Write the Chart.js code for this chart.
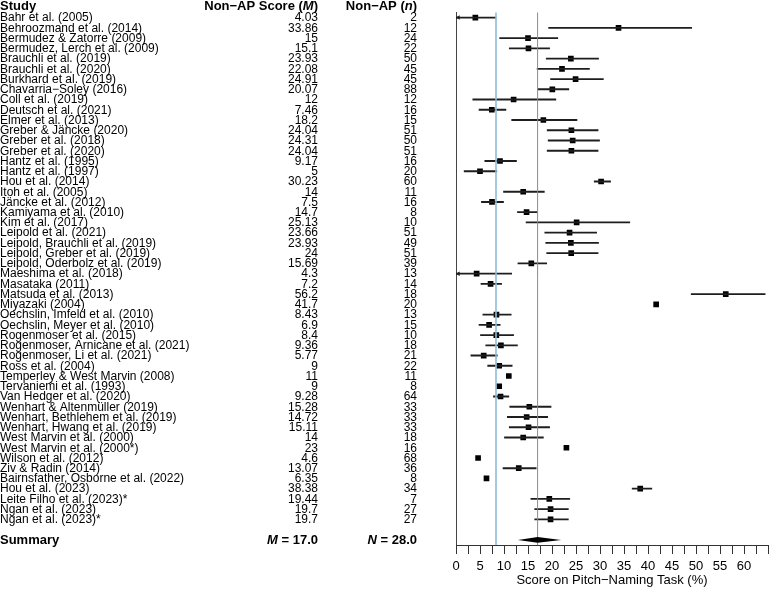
<!DOCTYPE html>
<html>
<head>
<meta charset="utf-8">
<script src="https://cdn.jsdelivr.net/npm/chart.js@4/dist/chart.umd.min.js"></script>
<style>
  html, body { margin: 0; padding: 0; background: #fff; }
</style>
</head>
<body>
<canvas id="forest" width="773" height="589"></canvas>
<script>
const studies = [
  'Bahr et al. (2005)', 'Behroozmand et al. (2014)', 'Bermudez & Zatorre (2009)',
  'Bermudez, Lerch et al. (2009)', 'Brauchli et al. (2019)', 'Brauchli et al. (2020)',
  'Burkhard et al. (2019)', 'Chavarria\u2212Soley (2016)', 'Coll et al. (2019)',
  'Deutsch et al. (2021)', 'Elmer et al. (2013)', 'Greber & Jäncke (2020)',
  'Greber et al. (2018)', 'Greber et al. (2020)', 'Hantz et al. (1995)',
  'Hantz et al. (1997)', 'Hou et al. (2014)', 'Itoh et al. (2005)',
  'Jäncke et al. (2012)', 'Kamiyama et al. (2010)', 'Kim et al. (2017)',
  'Leipold et al. (2021)', 'Leipold, Brauchli et al. (2019)', 'Leipold, Greber et al. (2019)',
  'Leipold, Oderbolz et al. (2019)', 'Maeshima et al. (2018)', 'Masataka (2011)',
  'Matsuda et al. (2013)', 'Miyazaki (2004)', 'Oechslin, Imfeld et al. (2010)',
  'Oechslin, Meyer et al. (2010)', 'Rogenmoser et al. (2015)', 'Rogenmoser, Arnicane et al. (2021)',
  'Rogenmoser, Li et al. (2021)', 'Ross et al. (2004)', 'Temperley & West Marvin (2008)',
  'Tervaniemi et al. (1993)', 'Van Hedger et al. (2020)', 'Wenhart & Altenmüller (2019)',
  'Wenhart, Bethlehem et al. (2019)', 'Wenhart, Hwang et al. (2019)', 'West Marvin et al. (2000)',
  'West Marvin et al. (2000*)', 'Wilson et al. (2012)', 'Ziv & Radin (2014)',
  'Bairnsfather, Osborne et al. (2022)', 'Hou et al. (2023)', 'Leite Filho et al. (2023)*',
  'Ngan et al. (2023)', 'Ngan et al. (2023)*'
];

const scores = [
  4.03, 33.86, 15, 15.1, 23.93, 22.08, 24.91, 20.07, 12, 7.46,
  18.2, 24.04, 24.31, 24.04, 9.17, 5, 30.23, 14, 7.5, 14.7,
  25.13, 23.66, 23.93, 24, 15.69, 4.3, 7.2, 56.2, 41.7, 8.43,
  6.9, 8.4, 9.36, 5.77, 9, 11, 9, 9.28, 15.28, 14.72,
  15.11, 14, 23, 4.6, 13.07, 6.35, 38.38, 19.44, 19.7, 19.7
];

const counts = [
  2, 12, 24, 22, 50, 45, 45, 88, 12, 16,
  15, 51, 50, 51, 16, 20, 60, 11, 16, 8,
  10, 51, 49, 51, 39, 13, 14, 18, 20, 13,
  15, 10, 18, 21, 22, 11, 8, 64, 33, 33,
  33, 18, 16, 68, 36, 8, 34, 7, 27, 27
];

// confidence interval ends (null = no interval drawn)
const ciLow = [
  -1, 19.3, 9.1, 11.1, 18.8, 16.9, 19.7, 17.1, 3.5, 4.8,
  11.6, 19.0, 19.2, 19.0, 6.0, 1.7, 28.8, 9.9, 5.3, 12.8,
  14.6, 18.5, 18.7, 18.9, 12.9, -1, 5.2, 49.0, null, 5.6,
  4.8, 5.1, 6.2, 3.1, 6.6, null, null, 7.8, 11.2, 10.7,
  11.1, 10.1, null, null, 9.8, null, 36.7, 15.6, 16.4, 16.4
];
const ciHigh = [
  8.3, 49.1, 21.2, 19.5, 29.7, 27.8, 30.7, 23.5, 20.8, 10.4,
  25.2, 29.6, 29.9, 29.6, 12.6, 8.5, 32.2, 18.4, 9.9, 16.9,
  36.2, 29.3, 29.7, 29.6, 18.9, 11.6, 9.5, 64.4, null, 11.5,
  9.2, 12.0, 12.8, 8.6, 11.7, null, null, 11.0, 19.8, 19.1,
  19.5, 18.2, null, null, 16.7, null, 40.8, 23.7, 23.4, 23.4
];

const summaryMean = 17.0;
const summaryLow = 12.9;
const summaryHigh = 21.9;
const summaryN = 28.0;
const chanceLevel = 100 / 12;

const xTicksMax = 60;

const FONT = '"Liberation Sans", Arial, Helvetica, sans-serif';
Chart.defaults.font.family = FONT;
Chart.defaults.color = '#000';

const rows = studies.concat(['', 'Summary']);
const pad = arr => arr.concat([null, null]);

const ciData = pad(ciLow.map((lo, i) => lo == null ? null : [lo, ciHigh[i]]));
const arrowData = pad(ciLow.map(lo => (lo != null && lo < 0) ? 0.5 : null));

function drawRich(ctx, parts, xRight, yMid) {
  let total = 0;
  parts.forEach(p => { ctx.font = p.font; total += ctx.measureText(p.text).width; });
  let cx = xRight - total;
  ctx.textAlign = 'left';
  parts.forEach(p => {
    ctx.font = p.font;
    ctx.fillText(p.text, cx, yMid);
    cx += ctx.measureText(p.text).width;
  });
}

const forestTable = {
  id: 'forestTable',
  afterDatasetsDraw(chart) {
    const { ctx, chartArea, scales: { x, y } } = chart;
    ctx.save();
    // chance level line
    let px = x.getPixelForValue(chanceLevel);
    ctx.strokeStyle = '#8dbbd8';
    ctx.lineWidth = 1.6;
    ctx.beginPath();
    ctx.moveTo(px, chartArea.top);
    ctx.lineTo(px, chartArea.bottom);
    ctx.stroke();
    // summary mean line
    px = x.getPixelForValue(summaryMean);
    ctx.strokeStyle = '#8a8a8a';
    ctx.lineWidth = 1;
    ctx.beginPath();
    ctx.moveTo(px, chartArea.top);
    ctx.lineTo(px, chartArea.bottom);
    ctx.stroke();
    // summary diamond
    const sy = y.getPixelForValue(rows.length - 1);
    ctx.fillStyle = '#000';
    ctx.beginPath();
    ctx.moveTo(x.getPixelForValue(summaryLow), sy);
    ctx.lineTo(x.getPixelForValue(summaryMean), sy - 2.8);
    ctx.lineTo(x.getPixelForValue(summaryHigh), sy);
    ctx.lineTo(x.getPixelForValue(summaryMean), sy + 2.8);
    ctx.closePath();
    ctx.fill();
    ctx.restore();
  },
  afterDraw(chart) {
    const { ctx, scales: { y } } = chart;
    const reg = '12px ' + FONT;
    const bold = 'bold 13px ' + FONT;
    const boldIt = 'italic bold 13px ' + FONT;
    const colScore = 318, colN = 417;
    ctx.save();
    ctx.fillStyle = '#000';
    ctx.textBaseline = 'middle';

    // header
    const hy = 6.5;
    ctx.font = bold;
    ctx.textAlign = 'left';
    ctx.fillText('Study', 0, hy);
    drawRich(ctx, [
      { text: 'Non\u2212AP Score (', font: bold },
      { text: 'M', font: boldIt },
      { text: ')', font: bold }
    ], colScore, hy);
    drawRich(ctx, [
      { text: 'Non\u2212AP (', font: bold },
      { text: 'n', font: boldIt },
      { text: ')', font: bold }
    ], colN, hy);

    // study rows
    studies.forEach((s, i) => {
      const ry = y.getPixelForValue(i) + 0.5;
      ctx.font = reg;
      ctx.textAlign = 'left';
      ctx.fillText(s, 0, ry);
      ctx.textAlign = 'right';
      ctx.fillText(String(scores[i]), colScore, ry);
      ctx.fillText(String(counts[i]), colN, ry);
    });

    // summary row
    const sy = y.getPixelForValue(rows.length - 1) + 0.5;
    ctx.font = bold;
    ctx.textAlign = 'left';
    ctx.fillText('Summary', 0, sy);
    drawRich(ctx, [
      { text: 'M', font: boldIt },
      { text: ' = ' + summaryMean.toFixed(1), font: bold }
    ], colScore, sy);
    drawRich(ctx, [
      { text: 'N', font: boldIt },
      { text: ' = ' + summaryN.toFixed(1), font: bold }
    ], colN, sy);
    ctx.restore();
  }
};

const config = {
  type: 'bar',
  data: {
    labels: rows,
    datasets: [
      {
        type: 'bar',
        indexAxis: 'y',
        data: ciData,
        backgroundColor: '#1e1e1e',
        barThickness: 1.2,
        borderWidth: 0
      },
      {
        type: 'line',
        indexAxis: 'y',
        data: pad(scores),
        showLine: false,
        pointStyle: 'rect',
        pointRadius: 4,
        pointBackgroundColor: '#000',
        pointBorderWidth: 0
      },
      {
        type: 'line',
        indexAxis: 'y',
        data: arrowData,
        showLine: false,
        pointStyle: 'triangle',
        rotation: -90,
        pointRadius: 2.6,
        pointBackgroundColor: '#1e1e1e',
        pointBorderWidth: 0,
        clip: false
      }
    ]
  },
  options: {
    indexAxis: 'y',
    responsive: false,
    animation: false,
    layout: { padding: { top: 12.5, right: 0, left: 0, bottom: 0 } },
    plugins: {
      legend: { display: false },
      tooltip: { enabled: false }
    },
    scales: {
      y: {
        type: 'category',
        offset: true,
        afterFit(scale) { scale.width = 456; },
        ticks: { display: false },
        grid: { drawOnChartArea: false, drawTicks: false },
        border: { display: true, color: '#444', width: 1 }
      },
      x: {
        type: 'linear',
        min: 0,
        max: 65,
        afterFit(scale) { scale.height = 44; },
        ticks: {
          stepSize: 2.5,
          autoSkip: false,
          maxRotation: 0,
          padding: 5,
          font: { size: 13 },
          color: '#000',
          callback: v => (v % 5 === 0 && v <= xTicksMax) ? String(v) : ''
        },
        grid: { drawOnChartArea: false, drawTicks: true, tickLength: 9, color: '#333' },
        border: { display: true, color: '#333', width: 1 },
        title: {
          display: true,
          text: 'Score on Pitch\u2212Naming Task (%)',
          font: { size: 13 },
          color: '#000',
          padding: { top: 0, bottom: 1 }
        }
      }
    }
  },
  plugins: [forestTable]
};

new Chart(document.getElementById('forest'), config);
</script>
</body>
</html>
